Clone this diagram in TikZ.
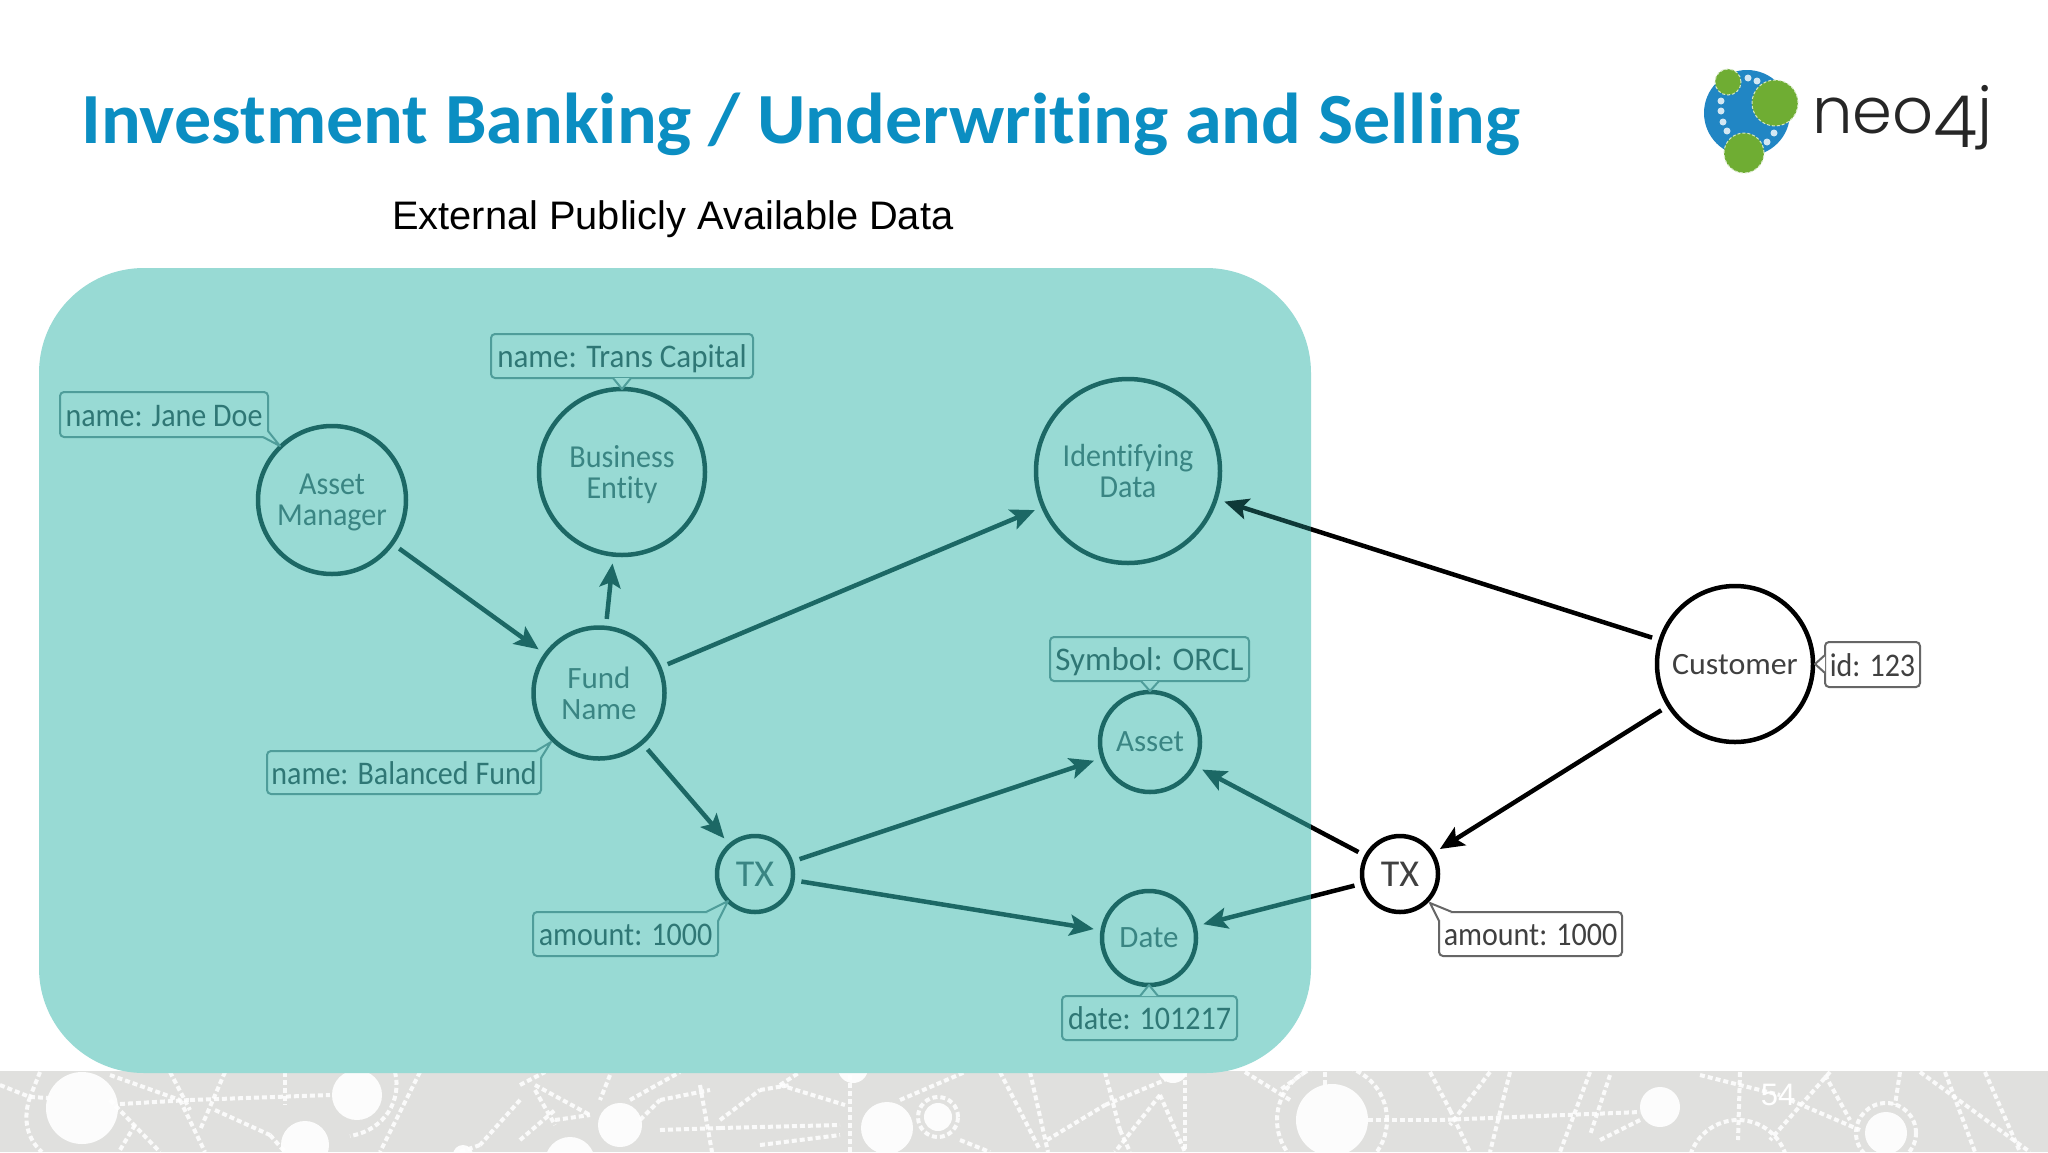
\documentclass[tikz,border=0pt]{standalone}
\usepackage{fontspec}
\usetikzlibrary{arrows.meta}
\setmainfont[Ligatures=NoCommon]{Carlito}
\newfontfamily\armo{Liberation Sans}
\newfontfamily\neofont{Poppins Light}
\newfontfamily\titlef[Ligatures=NoCommon,FakeStretch=1.03,BoldFont={Carlito Bold}]{Carlito}
\newfontfamily\gillf[Ligatures=NoCommon,FakeStretch=0.91]{Carlito}
\newfontfamily\gillg[Ligatures=NoCommon,FakeStretch=0.94]{Carlito}
\newfontfamily\gillh[Ligatures=NoCommon,FakeStretch=1.03]{Carlito}
\definecolor{panelc}{HTML}{98DAD4}
\definecolor{tealdk}{HTML}{1C6865}
\definecolor{tealtx}{HTML}{3A8583}
\definecolor{teallb}{HTML}{4F9D9A}
\definecolor{labtx}{HTML}{2F7775}
\definecolor{titlec}{HTML}{0B8EC2}
\definecolor{bandc}{HTML}{E0E0DE}
\definecolor{greyln}{HTML}{666666}
\definecolor{greytx}{HTML}{404040}
\definecolor{neoblue}{HTML}{2186C4}
\definecolor{neogreen}{HTML}{6FAD33}
\tikzset{
  x=1pt,y=-1pt,
  net/.style={draw=white,opacity=.85,line width=4pt,dash pattern=on 5pt off 3pt},
  ent/.style={circle,draw=tealdk,line width=4.5pt,inner sep=0pt,outer sep=9pt,text=tealtx,align=center,text depth=0pt,font=\fontsize{31}{31}\selectfont},
  entn/.style={ent,font=\gillg\fontsize{32}{31}\selectfont},
  entout/.style={ent,draw=black,text=greytx},
  lab/.style={draw=teallb,line width=2pt,rounded corners=4pt,inner sep=0pt,text height=23pt,text depth=0pt,text=labtx,font=\gillf\fontsize{33}{33}\selectfont},
  labout/.style={lab,draw=greyln,text=greytx},
  rel/.style={draw=tealdk,line width=4.5pt,-{Stealth[length=24pt,width=21pt,inset=5pt]}},
  relout/.style={rel,draw=black},
  wedgef/.style={fill=panelc},
  wedgel/.style={draw=teallb,line width=2pt,line join=round},
  wedgelo/.style={draw=greyln,line width=2pt,line join=round},
}
\begin{document}
\begin{tikzpicture}
\useasboundingbox (0,0) rectangle (2048,1152);
\fill[white] (0,0) rectangle (2048,1152);
% footer band
\fill[bandc] (0,1071) rectangle (2048,1152);
\begin{scope}
\clip (0,1071) rectangle (2048,1152);
\foreach \a/\b in {
 {0,1085}/{30,1097},{30,1097}/{50,1098},{40,1072}/{30,1097},{110,1075}/{180,1100},{180,1100}/{205,1152},
 {120,1104}/{190,1100},{190,1100}/{330,1095},{170,1072}/{190,1110},{225,1072}/{200,1130},{285,1072}/{285,1105},
 {215,1110}/{270,1135},{270,1135}/{285,1152},{110,1100}/{160,1152},{135,1125}/{120,1150},{420,1072}/{380,1152},
 {520,1100}/{480,1145},{480,1145}/{460,1152},{520,1085}/{545,1072},{535,1085}/{590,1115},{520,1140}/{555,1110},
 {535,1090}/{555,1125},{555,1120}/{590,1115},{610,1075}/{600,1100},{630,1100}/{680,1072},{640,1120}/{660,1100},
 {660,1100}/{710,1090},{700,1085}/{712,1152},{660,1130}/{720,1128},{720,1128}/{840,1125},{720,1120}/{760,1090},
 {760,1090}/{790,1085},{780,1085}/{845,1105},{780,1085}/{800,1072},{760,1145}/{840,1135},{900,1100}/{965,1072},
 {960,1140}/{990,1152},{1000,1072}/{1040,1150},{1030,1072}/{1048,1152},{850,1152}/{850,1072},
 {1047,1140}/{1105,1105},{1105,1105}/{1165,1080},{1105,1072}/{1120,1130},{1120,1130}/{1130,1152},{1160,1095}/{1115,1152},
 {1160,1095}/{1185,1152},{1185,1072}/{1185,1152},{1245,1072}/{1290,1100},{1305,1072}/{1280,1090},{1325,1072}/{1325,1085},
 {1368,1120}/{1440,1120},{1440,1120}/{1640,1112},{1430,1072}/{1450,1110},{1450,1110}/{1470,1152},{1490,1072}/{1450,1125},
 {1510,1072}/{1490,1152},{1590,1072}/{1560,1152},{1610,1075}/{1590,1135},{1600,1140}/{1640,1120},{1740,1072}/{1738,1140},
 {1700,1075}/{1780,1095},{1830,1072}/{1770,1140},{1790,1100}/{1860,1130},{1825,1075}/{1850,1120},{1900,1072}/{1895,1105},
 {1920,1072}/{2030,1152},{1945,1072}/{1975,1152},{1985,1072}/{2020,1152}}
 {\draw[net] (\a) -- (\b);}
\draw[net] (30,1097) .. controls (22,1120) and (28,1140) .. (42,1152);
\draw[net] (395,1072) .. controls (402,1100) and (385,1130) .. (350,1136);
\draw[net] (1332,1120) circle[radius=55pt];
\draw[net] (1886,1133) circle[radius=30pt];
\draw[net] (1738,1170) circle[radius=50pt];
\draw[net] (938,1117) circle[radius=20pt];
\foreach \c/\r in {{82,1108}/36,{357,1095}/25,{305,1145}/24,{463,1155}/10,{620,1125}/22,{570,1162}/25,{887,1128}/26,
 {938,1117}/14,{853,1068}/15,{1332,1120}/36,{1173,1068}/15,{1660,1107}/20,{1886,1133}/21}
 {\fill[white,opacity=.93] (\c) circle[radius=\r pt];}
\end{scope}
% panel
\fill[panelc,rounded corners=105pt] (39,268) rectangle (1311,1073);
% title
\node[anchor=base west,inner sep=0pt,text=titlec,font=\titlef\bfseries\fontsize{72}{72}\selectfont] (title) at (81,143) {Investment Banking / Underwriting and Selling};
\node[anchor=base west,inner sep=0pt,text=black,font=\armo\fontsize{39.8}{40}\selectfont] (sub) at (392,229) {External Publicly Available Data};
% logo
\fill[neoblue] (1747,113) circle[radius=43pt];
\foreach \c in {{1748,78},{1757,81},{1721,101},{1721,111},{1723,122},{1727,131},{1767,142},{1774,133}}
 {\fill[white!80!neoblue] (\c) circle[radius=3.5pt];}
\foreach \c/\r in {{1728,82}/13,{1775,103}/23,{1744,153}/20}
 {\fill[neogreen] (\c) circle[radius=\r pt];\draw[white!70!neogreen,line width=1pt,densely dashed] (\c) circle[radius=\r pt];}
\node[anchor=base west,inner sep=0pt,text=black!85,font=\neofont\fontsize{64}{64}\selectfont] (neo) at (1812,133) {neo{\fontsize{72}{72}\selectfont\raisebox{-14pt}{4}}j};
% entities
\node[entn,minimum size=148pt] (am) at (332,500) {Asset\\Manager};
\node[entn,minimum size=166pt] (be) at (622,472) {Business\\Entity};
\node[ent,minimum size=131pt] (fund) at (599,693) {Fund\\Name};
\node[entn,minimum size=184pt] (idd) at (1128,471) {Identifying\\Data};
\node[ent,minimum size=100pt] (asset) at (1150,742) {Asset};
\node[ent,minimum size=94pt] (date) at (1149,938) {Date};
\node[ent,minimum size=76pt,font=\fontsize{38}{38}\selectfont] (txl) at (755,874) {TX};
\node[entout,minimum size=76pt,font=\fontsize{38}{38}\selectfont] (txr) at (1400,874) {TX};
\node[entout,minimum size=156pt,font=\gillh\fontsize{31}{31}\selectfont] (cust) at (1735,664) {Customer};
% labels
\coordinate (t1) at (280,446); \coordinate (b1a) at (263,437); \coordinate (b1b) at (268,431);
\coordinate (t2) at (622,389); \coordinate (b2a) at (613,378); \coordinate (b2b) at (631,378);
\coordinate (t3) at (551,742); \coordinate (b3a) at (536,751); \coordinate (b3b) at (541,758);
\coordinate (t4) at (1150,691); \coordinate (b4a) at (1141,681); \coordinate (b4b) at (1159,681);
\coordinate (t5) at (1149,985); \coordinate (b5a) at (1140,996); \coordinate (b5b) at (1158,996);
\coordinate (t6) at (728,901); \coordinate (b6a) at (706,912); \coordinate (b6b) at (718,921);
\coordinate (t7) at (1430,903); \coordinate (b7a) at (1439,921); \coordinate (b7b) at (1452,912);
\coordinate (t8) at (1815,664); \coordinate (b8a) at (1825,655); \coordinate (b8b) at (1825,673);
\node[lab,minimum width=208pt,minimum height=45pt] (l1) at (164,414.5) {name: Jane Doe};
\node[lab,minimum width=262pt,minimum height=44pt,font=\gillg\fontsize{33}{33}\selectfont] (l2) at (622,356) {name: Trans Capital};
\node[lab,minimum width=274pt,minimum height=43pt] (l3) at (404,772.5) {name: Balanced Fund};
\node[lab,minimum width=199pt,minimum height=44pt,font=\fontsize{33}{33}\selectfont] (l4) at (1149.5,659) {Symbol: ORCL};
\node[lab,minimum width=175pt,minimum height=44pt] (l5) at (1149.5,1018) {date: 101217};
\node[lab,minimum width=185pt,minimum height=44pt] (l6) at (625.5,934) {amount: 1000};
\node[labout,minimum width=183pt,minimum height=44pt] (l7) at (1530.5,934) {amount: 1000};
\node[labout,minimum width=95pt,minimum height=45pt] (l8) at (1872.5,664.5) {id: 123};
\foreach \n in {1,2,3,4,5,6}{
 \fill[wedgef] (b\n a) -- (t\n) -- (b\n b) -- cycle;
 \draw[wedgel] (b\n a) -- (t\n) -- (b\n b);
}
\foreach \n in {7,8}{
 \fill[white] (b\n a) -- (t\n) -- (b\n b) -- cycle;
 \draw[wedgelo] (b\n a) -- (t\n) -- (b\n b);
}
% relationships
\draw[rel] (am) -- (fund);
\draw[rel] (fund) -- (be);
\draw[rel] (fund) -- (idd);
\draw[rel] (fund) -- (txl);
\draw[rel] (txl) -- (asset);
\draw[rel] (txl) -- (date);
% arrows crossing the panel edge: black on white, dark teal over the panel
\begin{scope}
\clip (0,0) rectangle (1311,1071);
\draw[rel] (txr) -- (asset);
\draw[rel] (txr) -- (date);
\draw[rel,draw=tealdk!55!black] (cust) -- (idd);
\end{scope}
\begin{scope}
\clip (1311,0) rectangle (2048,1152);
\draw[relout] (txr) -- (asset);
\draw[relout] (txr) -- (date);
\draw[relout] (cust) -- (idd);
\end{scope}
\draw[relout] (cust) -- (txr);
% page number
\node[inner sep=0pt,text=white,font=\armo\fontsize{31}{31}\selectfont] (pg) at (1778,1095) {54};
\end{tikzpicture}
\end{document}
